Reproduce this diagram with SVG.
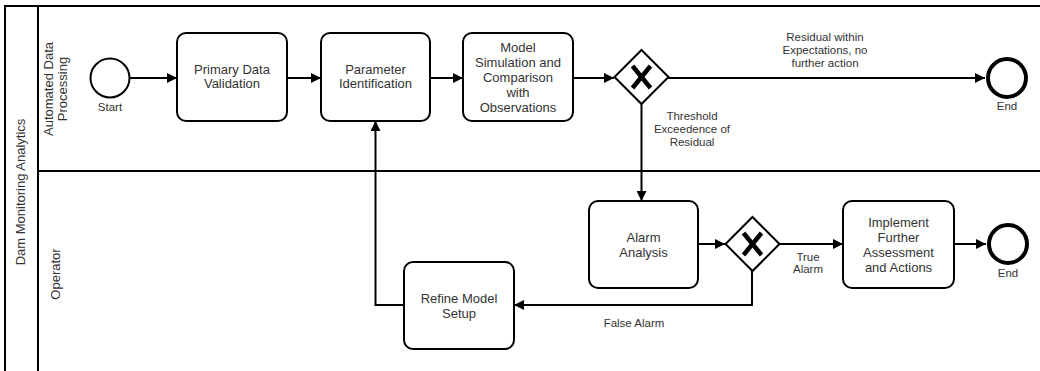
<svg xmlns="http://www.w3.org/2000/svg" width="1040" height="371" viewBox="0 0 1040 371">
<defs>
<marker id="arr" markerUnits="userSpaceOnUse" markerWidth="11" markerHeight="10" refX="10" refY="5" orient="auto">
<path d="M0,0 L10,5 L0,10 Z" fill="#000"/>
</marker>
<style>
.pool{fill:none;stroke:#000;stroke-width:2}
.task{fill:#fff;stroke:#000;stroke-width:2}
.gw{fill:#fff;stroke:#000;stroke-width:2}
.gx{stroke:#000;stroke-width:4.5;stroke-linecap:butt}
.start{fill:#fff;stroke:#000;stroke-width:2}
.end{fill:#fff;stroke:#000;stroke-width:4}
.edge{fill:none;stroke:#000;stroke-width:2;marker-end:url(#arr)}
text{font-family:"Liberation Sans",Arial,Helvetica,sans-serif;fill:#333;text-anchor:middle}
.t{font-size:13px}
.l{font-size:11.5px}
.h{font-size:13px}
</style>
</defs>
<g id="pool">
<rect class="pool" x="5" y="6" width="1045" height="380"/>
<line class="pool" x1="38" y1="6" x2="38" y2="380"/>
<line class="pool" x1="38" y1="171" x2="1045" y2="171"/>
<text class="h" transform="translate(24.5,192) rotate(-90)">Dam Monitoring Analytics</text>
<text class="h" transform="translate(52.5,89) rotate(-90)">Automated Data</text>
<text class="h" transform="translate(66.5,89) rotate(-90)">Processing</text>
<text class="h" transform="translate(59.5,274) rotate(-90)">Operator</text>
</g>
<g id="connectors">
<line class="edge" x1="130" y1="78" x2="177" y2="78"/>
<line class="edge" x1="287" y1="78" x2="321" y2="78"/>
<line class="edge" x1="430" y1="78" x2="463" y2="78"/>
<line class="edge" x1="573" y1="78" x2="614" y2="78"/>
<line class="edge" x1="668" y1="78" x2="985" y2="78"/>
<line class="edge" x1="641.5" y1="104" x2="641.5" y2="201"/>
<line class="edge" x1="698" y1="244" x2="725" y2="244"/>
<line class="edge" x1="780" y1="244" x2="843" y2="244"/>
<line class="edge" x1="954" y1="244" x2="986" y2="244"/>
<polyline class="edge" points="752,271 752,305 514,305"/>
<polyline class="edge" points="404,305 375.5,305 375.5,121"/>
<text class="l" x="825" y="41">Residual within</text>
<text class="l" x="825" y="54">Expectations, no</text>
<text class="l" x="825" y="67">further action</text>
<text class="l" x="692" y="120">Threshold</text>
<text class="l" x="692" y="133">Exceedence of</text>
<text class="l" x="692" y="146">Residual</text>
<text class="l" x="808" y="261">True</text>
<text class="l" x="808" y="273">Alarm</text>
<text class="l" x="634" y="327">False Alarm</text>
</g>
<g id="start">
<circle class="start" cx="110" cy="78" r="19.5"/>
<text class="l" x="110" y="111">Start</text>
</g>
<g id="primary-data-validation">
<rect class="task" x="177" y="33" width="110" height="88" rx="9"/>
<text class="t" x="232" y="74">Primary Data</text>
<text class="t" x="232" y="88">Validation</text>
</g>
<g id="parameter-identification">
<rect class="task" x="321" y="33" width="109" height="88" rx="9"/>
<text class="t" x="375.5" y="74">Parameter</text>
<text class="t" x="375.5" y="88">Identification</text>
</g>
<g id="model-simulation">
<rect class="task" x="463" y="33" width="110" height="88" rx="9"/>
<text class="t" x="518" y="51.5">Model</text>
<text class="t" x="518" y="66.5">Simulation and</text>
<text class="t" x="518" y="81.5">Comparison</text>
<text class="t" x="518" y="97">with</text>
<text class="t" x="518" y="111.5">Observations</text>
</g>
<g id="gateway-residual">
<polygon class="gw" points="641.5,50 668.5,77 641.5,104 614.5,77"/>
<line class="gx" x1="632.5" y1="66" x2="650.5" y2="88"/>
<line class="gx" x1="650.5" y1="66" x2="632.5" y2="88"/>
</g>
<g id="end-1">
<circle class="end" cx="1007" cy="78" r="19"/>
<text class="l" x="1007" y="110">End</text>
</g>
<g id="alarm-analysis">
<rect class="task" x="589" y="201" width="109" height="87" rx="9"/>
<text class="t" x="643.5" y="241.5">Alarm</text>
<text class="t" x="643.5" y="256.5">Analysis</text>
</g>
<g id="gateway-alarm">
<polygon class="gw" points="752.5,217 779.5,244 752.5,271 725.5,244"/>
<line class="gx" x1="743.5" y1="233" x2="761.5" y2="255"/>
<line class="gx" x1="761.5" y1="233" x2="743.5" y2="255"/>
</g>
<g id="implement-further">
<rect class="task" x="843" y="201" width="111" height="87" rx="9"/>
<text class="t" x="898.5" y="226.5">Implement</text>
<text class="t" x="898.5" y="241.5">Further</text>
<text class="t" x="898.5" y="256.5">Assessment</text>
<text class="t" x="898.5" y="271.5">and Actions</text>
</g>
<g id="end-2">
<circle class="end" cx="1008" cy="244" r="19"/>
<text class="l" x="1008" y="277">End</text>
</g>
<g id="refine-model-setup">
<rect class="task" x="404" y="262" width="110" height="87" rx="9"/>
<text class="t" x="459" y="302.5">Refine Model</text>
<text class="t" x="459" y="317.5">Setup</text>
</g>
</svg>
